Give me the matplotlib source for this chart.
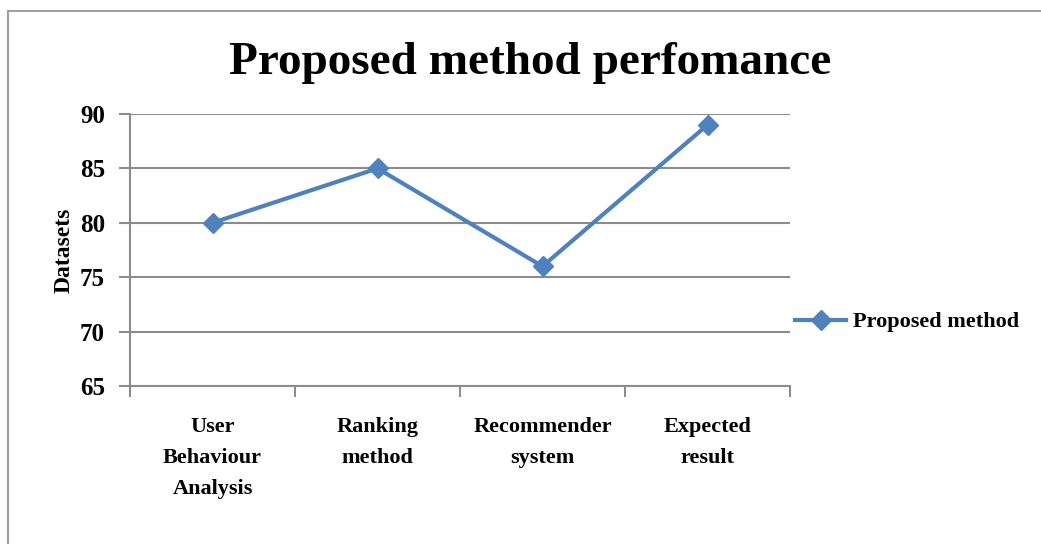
import matplotlib
matplotlib.use("Agg")
import matplotlib.pyplot as plt
from matplotlib.patches import Rectangle

categories = ["User\nBehaviour\nAnalysis", "Ranking\nmethod", "Recommender\nsystem", "Expected\nresult"]
values = [80, 85, 76, 89]
series_name = "Proposed method"
y_ticks = [65, 70, 75, 80, 85, 90]

plt.rcParams['font.family'] = ['Liberation Serif', 'DejaVu Serif']
plt.rcParams['font.weight'] = 'bold'

W, H = 1041, 544
fig = plt.figure(figsize=(W / 100, H / 100), dpi=100)
ax = fig.add_axes([130 / W, 1 - 386 / H, 660 / W, 272 / H])

# chart area border (only left and top show in the crop)
fig.patches.append(Rectangle((8 / W, -0.1), 1.2, 1 - 11 / H + 0.1, transform=fig.transFigure,
                             fill=False, edgecolor='#a0a0a0', linewidth=1.5))

x = list(range(len(categories)))
ax.plot(x, values, color='#4f81bd', linewidth=3, marker='D', markersize=10,
        label=series_name)

ax.set_xlim(-0.5, len(categories) - 0.5)
ax.set_ylim(65, 90)
ax.set_yticks(y_ticks)
ax.set_yticklabels([str(v) for v in y_ticks], fontsize=18, fontweight='bold')
ax.yaxis.grid(True, color='#8c8c8c', linewidth=1.5)
ax.set_axisbelow(True)

ax.set_xticks(x)
ax.set_xticklabels(categories, fontsize=16, fontweight='bold', linespacing=1.75)
ax.set_xticks([i - 0.5 for i in range(len(categories) + 1)], minor=True)
ax.tick_params(axis='x', which='major', length=0, pad=22)
ax.tick_params(axis='x', which='minor', length=8, color='#8c8c8c', width=1.5)
ax.tick_params(axis='y', length=8, color='#8c8c8c', width=1.5, pad=10)

for s in ['top', 'right']:
    ax.spines[s].set_visible(False)
for s in ['left', 'bottom']:
    ax.spines[s].set_color('#8c8c8c')
    ax.spines[s].set_linewidth(1.5)

ax.set_ylabel("Datasets", fontsize=17, fontweight='bold', labelpad=4)
fig.text(530 / W, 1 - 63 / H, "Proposed method perfomance", fontsize=34,
         fontweight='bold', ha='center', va='center')

ax.legend(loc='center left', bbox_to_anchor=((795 - 130) / 660, 1 - (322 - 114) / 272),
          frameon=False, handlelength=2.3, handletextpad=0.3,
          borderaxespad=0, borderpad=0, prop={'weight': 'bold', 'size': 16})

fig.savefig("out.png", dpi=100)
